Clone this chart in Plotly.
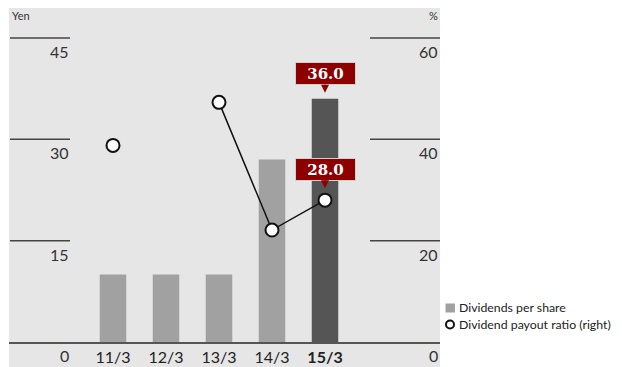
import plotly.graph_objects as go

# ---- data ----
categories = ["11/3", "12/3", "13/3", "14/3", "15/3"]
tick_text = ["11/3", "12/3", "13/3", "14/3", "<b>15/3</b>"]
dividends = [10, 10, 10, 27, 36]
payout = [38.8, None, 47.3, 22.1, 28.0]
bar_colors = ["#a0a1a0", "#a0a1a0", "#a0a1a0", "#a0a1a0", "#555555"]
yen_ticks = [0, 15, 30, 45]
pct_ticks = [0, 20, 40, 60]
label_dividend = "36.0"
label_payout = "28.0"

# ---- geometry helpers (layout only; screen px -> paper) ----
O = 8                     # page body margin offset
W, H = 614, 359
L, T = 1, 0
PW = 432 - L
PH = 334 - T
R, B = W - L - PW, H - T - PH


def px(sx):
    return (sx - O - L) / PW


def py(sy):
    return (T + PH - (sy - O)) / PH


x_idx = list(range(len(categories)))

fig = go.Figure()
fig.add_trace(go.Bar(
    x=x_idx, y=dividends, marker=dict(color=bar_colors, line=dict(width=0)),
    width=0.5, name="Dividends per share", yaxis="y", showlegend=False,
))
fig.add_trace(go.Scatter(
    x=x_idx, y=payout, mode="lines+markers", yaxis="y2", connectgaps=False,
    line=dict(color="#111111", width=1.5),
    marker=dict(symbol="circle", size=13, color="white",
                line=dict(color="#111111", width=2)),
    name="Dividend payout ratio (right)", showlegend=False,
))

shapes = []
annotations = []
# background including bottom strip
shapes.append(dict(type="rect", xref="paper", yref="paper", x0=0, x1=1,
                   y0=-B / PH, y1=1, fillcolor="#e6e6e6", line=dict(width=0),
                   layer="below"))
# short tick lines
for v in yen_ticks[1:]:
    shapes.append(dict(type="line", xref="paper", yref="y", x0=px(10), x1=px(70),
                       y0=v, y1=v, line=dict(color="#444444", width=1.5)))
for v in pct_ticks[1:]:
    shapes.append(dict(type="line", xref="paper", yref="y2", x0=px(370), x1=1,
                       y0=v, y1=v, line=dict(color="#444444", width=1.5)))
# tick labels
for v in yen_ticks:
    annotations.append(dict(xref="paper", yref="y", x=px(71), y=v, text=str(v),
                            showarrow=False, xanchor="right", yanchor="top",
                            yshift=-2, font=dict(size=16, color="#333333")))
for v in pct_ticks:
    annotations.append(dict(xref="paper", yref="y2", x=1, y=v, text=str(v),
                            showarrow=False, xanchor="right", yanchor="top",
                            yshift=-2, font=dict(size=16, color="#333333")))
annotations.append(dict(xref="paper", yref="paper", x=px(10), y=1, text="Yen",
                        showarrow=False, xanchor="left", yanchor="top", yshift=1,
                        font=dict(size=11, color="#333333")))
annotations.append(dict(xref="paper", yref="paper", x=1, y=1, text="%",
                        showarrow=False, xanchor="right", yanchor="top", yshift=1,
                        font=dict(size=11, color="#333333")))

# value call-outs
callout = dict(showarrow=True, ax=0, arrowhead=2, arrowsize=1, arrowwidth=1.6,
               arrowcolor="#8c0000", bgcolor="#8c0000", bordercolor="#d0d0d0",
               borderwidth=1, borderpad=1, width=57, height=19,
               font=dict(family="DejaVu Serif", size=15, color="white"))
annotations.append(dict(callout, x=4, y=dividends[4], xref="x", yref="y",
                        ay=-25, standoff=6, text="<b>" + label_dividend + "</b>"))
annotations.append(dict(callout, x=4, y=payout[4], xref="x", yref="y2",
                        ay=-31, standoff=12, text="<b>" + label_payout + "</b>"))

# legend (drawn manually)
shapes.append(dict(type="rect", xref="paper", yref="paper", x0=px(445.5), x1=px(455),
                   y0=py(312.5), y1=py(303.5), fillcolor="#a0a1a0", line=dict(width=0)))
shapes.append(dict(type="circle", xref="paper", yref="paper", x0=px(446), x1=px(454),
                   y0=py(328.5), y1=py(320.5), fillcolor="white",
                   line=dict(color="#111111", width=2)))
annotations.append(dict(xref="paper", yref="paper", x=px(456.5), y=py(307.5),
                        text="Dividends per share", showarrow=False,
                        xanchor="left", yanchor="middle",
                        font=dict(size=12.3, color="#222222")))
annotations.append(dict(xref="paper", yref="paper", x=px(456.5), y=py(324.5),
                        text="Dividend payout ratio (right)", showarrow=False,
                        xanchor="left", yanchor="middle",
                        font=dict(size=12.3, color="#222222")))

ppy = (342 - 38) / 45.0
ppy2 = (342 - 38) / 60.0
fig.update_layout(
    width=W, height=H, margin=dict(l=L, r=R, t=T, b=B, pad=0),
    paper_bgcolor="white", plot_bgcolor="#e6e6e6",
    font=dict(family="Lato", color="#333333"),
    xaxis=dict(range=[-(113 - O - L) / 53.0, (O + L + PW - 113) / 53.0],
               tickvals=x_idx, ticktext=tick_text, showgrid=False, zeroline=False,
               showline=True, linecolor="#555555", linewidth=1.5, ticks="",
               tickfont=dict(size=16, color="#222222"), fixedrange=True),
    yaxis=dict(range=[0, PH / ppy], showgrid=False, zeroline=False,
               showticklabels=False, ticks=""),
    yaxis2=dict(range=[0, PH / ppy2], overlaying="y", side="right",
                showgrid=False, zeroline=False, showticklabels=False, ticks=""),
    shapes=shapes, annotations=annotations, showlegend=False,
    bargap=0.5,
)
fig.write_html("out.html")
